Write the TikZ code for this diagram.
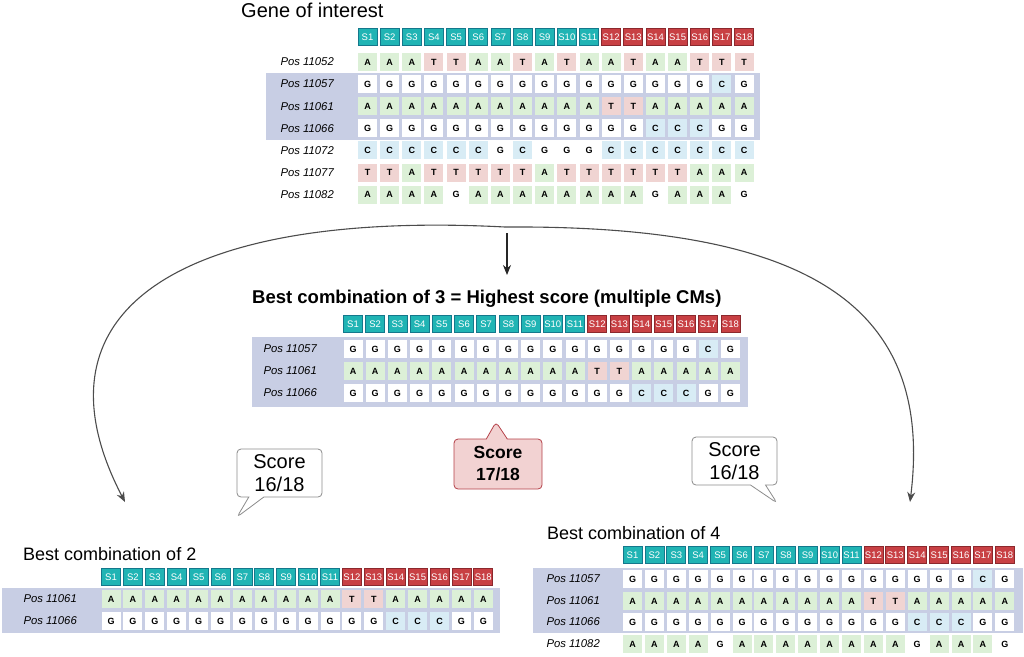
\documentclass[tikz,border=0pt]{standalone}
\usepackage{fontspec}
\setmainfont{Liberation Sans}
\usetikzlibrary{arrows.meta, shapes.callouts}

\definecolor{nucA}{RGB}{220,240,215}
\definecolor{nucT}{RGB}{240,212,210}
\definecolor{nucC}{RGB}{216,236,245}
\definecolor{nucG}{RGB}{255,255,255}
\definecolor{sampteal}{RGB}{32,180,180}
\definecolor{samptealdark}{RGB}{20,120,140}
\definecolor{samprose}{RGB}{200,64,68}
\definecolor{samprosedark}{RGB}{140,40,45}
\definecolor{bandfill}{RGB}{200,206,228}
\definecolor{bestfill}{RGB}{242,210,210}
\definecolor{bestdraw}{RGB}{180,64,72}

\begin{document}
\begin{tikzpicture}[
    x=1pt, y=-1pt,
    % Define base cell style
    nuc/.style={
        rectangle, % Cell shape
        minimum width=19pt, % Cell width
        minimum height=18pt, % Cell height
        inner sep=0pt,
        fill=nuc#1, % Fill by base
        font=\fontsize{9}{10}\selectfont\bfseries
      },
    % Define sample header style
    samp/.style={
        rectangle,
        minimum width=19pt,
        minimum height=17pt,
        inner sep=0pt,
        line width=0.8pt,
        text=white,
        font=\fontsize{9.5}{10}\selectfont
      },
    sampA/.style={samp, fill=sampteal, draw=samptealdark},
    sampB/.style={samp, fill=samprose, draw=samprosedark},
    % Define row label and title styles
    posl/.style={anchor=east, inner sep=0pt, font=\fontsize{11.3}{12}\selectfont\itshape},
    title/.style={anchor=base west, inner sep=0pt, font=\fontsize{18}{20}\selectfont},
    % Define score bubble style
    bubble/.style={
        rectangle callout,
        draw=black!45,
        fill=white,
        line width=0.8pt,
        rounded corners=4pt,
        align=center,
        minimum width=85pt,
        minimum height=48pt,
        callout pointer width=15pt,
        font=\fontsize{20}{23}\selectfont
      },
    band/.style={fill=bandfill},
    % Define arrow style
    conn/.style={->, line width=1.1pt, draw=black!85},
    >={Stealth[length=10pt, width=8pt]}
  ]

  \useasboundingbox (0,0) rectangle (1024,656);

  % Gene of interest
  \node[title, font=\fontsize{20}{22}\selectfont] (gene) at (241,17) {Gene of interest};
  \fill[band] (266,73) rectangle (760,140);
  \foreach \i in {1,...,11} \node[sampA] (top-h\i) at ({345.35+22.15*\i},37) {S\i};
  \foreach \i in {12,...,18} \node[sampB] (top-h\i) at ({345.35+22.15*\i},37) {S\i};
  \node[posl] (top-l1) at (334,62) {Pos 11052};
  \foreach \nt [count=\i] in {A,A,A,T,T,A,A,T,A,T,A,A,T,A,A,T,T,T}
    \node[nuc=\nt] (top-1-\i) at ({345.35+22.15*\i},62) {\nt};
  \node[posl] (top-l2) at (334,84.1) {Pos 11057};
  \foreach \nt [count=\i] in {G,G,G,G,G,G,G,G,G,G,G,G,G,G,G,G,C,G}
    \node[nuc=\nt] (top-2-\i) at ({345.35+22.15*\i},84.1) {\nt};
  \node[posl] (top-l3) at (334,106.2) {Pos 11061};
  \foreach \nt [count=\i] in {A,A,A,A,A,A,A,A,A,A,A,T,T,A,A,A,A,A}
    \node[nuc=\nt] (top-3-\i) at ({345.35+22.15*\i},106.2) {\nt};
  \node[posl] (top-l4) at (334,128.3) {Pos 11066};
  \foreach \nt [count=\i] in {G,G,G,G,G,G,G,G,G,G,G,G,G,C,C,C,G,G}
    \node[nuc=\nt] (top-4-\i) at ({345.35+22.15*\i},128.3) {\nt};
  \node[posl] (top-l5) at (334,150.4) {Pos 11072};
  \foreach \nt [count=\i] in {C,C,C,C,C,C,G,C,G,G,G,C,C,C,C,C,C,C}
    \node[nuc=\nt] (top-5-\i) at ({345.35+22.15*\i},150.4) {\nt};
  \node[posl] (top-l6) at (334,172.5) {Pos 11077};
  \foreach \nt [count=\i] in {T,T,A,T,T,T,T,T,A,T,T,T,T,T,T,A,A,A}
    \node[nuc=\nt] (top-6-\i) at ({345.35+22.15*\i},172.5) {\nt};
  \node[posl] (top-l7) at (334,194.6) {Pos 11082};
  \foreach \nt [count=\i] in {A,A,A,A,G,A,A,A,A,A,A,A,A,G,A,A,A,G}
    \node[nuc=\nt] (top-7-\i) at ({345.35+22.15*\i},194.6) {\nt};

  % Split arrows
  \coordinate (split) at (505,227);
  \coordinate (drop) at (507,233);
  \coordinate (to2) at (125,502);
  \coordinate (to3) at (507,275);
  \coordinate (to4) at (910,502);
  \draw[conn] (drop) -- (to3);
  \draw[conn, draw=black!70] (split) .. controls (180,210) and (25,310) .. (to2);
  \draw[conn, draw=black!70] (split) .. controls (800,225) and (935,300) .. (to4);

  % Best combination of 3
  \node[title, font=\fontsize{18.5}{20}\selectfont\bfseries] (best3) at (252,303) {Best combination of 3 = Highest score (multiple CMs)};
  \fill[band] (252,337) rectangle (748,407);
  \foreach \i in {1,...,11} \node[sampA] (mid-h\i) at ({330.8+22.2*\i},324) {S\i};
  \foreach \i in {12,...,18} \node[sampB] (mid-h\i) at ({330.8+22.2*\i},324) {S\i};
  \node[posl] (mid-l1) at (317,349) {Pos 11057};
  \foreach \nt [count=\i] in {G,G,G,G,G,G,G,G,G,G,G,G,G,G,G,G,C,G}
    \node[nuc=\nt] (mid-1-\i) at ({330.8+22.2*\i},349) {\nt};
  \node[posl] (mid-l2) at (317,371) {Pos 11061};
  \foreach \nt [count=\i] in {A,A,A,A,A,A,A,A,A,A,A,T,T,A,A,A,A,A}
    \node[nuc=\nt] (mid-2-\i) at ({330.8+22.2*\i},371) {\nt};
  \node[posl] (mid-l3) at (317,393) {Pos 11066};
  \foreach \nt [count=\i] in {G,G,G,G,G,G,G,G,G,G,G,G,G,C,C,C,G,G}
    \node[nuc=\nt] (mid-3-\i) at ({330.8+22.2*\i},393) {\nt};

  % Score bubbles
  \node[bubble, callout absolute pointer={(237,517)}] (score2) at (279.5,473) {Score\\16/18};
  \node[bubble, callout absolute pointer={(777,503)}] (score4) at (734.5,461) {Score\\16/18};
  \node[bubble, fill=bestfill, draw=bestdraw, minimum width=88pt, minimum height=50pt,
        callout pointer width=21pt, font=\fontsize{17.5}{22}\selectfont\bfseries,
        callout absolute pointer={(496,422)}] (score3) at (498,464) {Score\\17/18};

  % Best combination of 2
  \node[title] (best2) at (23,560) {Best combination of 2};
  \fill[band] (2,588) rectangle (500,633);
  \foreach \i in {1,...,11} \node[sampA] (bl-h\i) at ({89.1+21.9*\i},577) {S\i};
  \foreach \i in {12,...,18} \node[sampB] (bl-h\i) at ({89.1+21.9*\i},577) {S\i};
  \node[posl] (bl-l1) at (77,599) {Pos 11061};
  \foreach \nt [count=\i] in {A,A,A,A,A,A,A,A,A,A,A,T,T,A,A,A,A,A}
    \node[nuc=\nt] (bl-1-\i) at ({89.1+21.9*\i},599) {\nt};
  \node[posl] (bl-l2) at (77,621) {Pos 11066};
  \foreach \nt [count=\i] in {G,G,G,G,G,G,G,G,G,G,G,G,G,C,C,C,G,G}
    \node[nuc=\nt] (bl-2-\i) at ({89.1+21.9*\i},621) {\nt};

  % Best combination of 4
  \node[title] (best4) at (547,539) {Best combination of 4};
  \fill[band] (533,568) rectangle (1023,633);
  \foreach \i in {1,...,11} \node[sampA] (br-h\i) at ({610.6+21.9*\i},555) {S\i};
  \foreach \i in {12,...,18} \node[sampB] (br-h\i) at ({610.6+21.9*\i},555) {S\i};
  \node[posl] (br-l1) at (600,579) {Pos 11057};
  \foreach \nt [count=\i] in {G,G,G,G,G,G,G,G,G,G,G,G,G,G,G,G,C,G}
    \node[nuc=\nt] (br-1-\i) at ({610.6+21.9*\i},579) {\nt};
  \node[posl] (br-l2) at (600,601) {Pos 11061};
  \foreach \nt [count=\i] in {A,A,A,A,A,A,A,A,A,A,A,T,T,A,A,A,A,A}
    \node[nuc=\nt] (br-2-\i) at ({610.6+21.9*\i},601) {\nt};
  \node[posl] (br-l3) at (600,622) {Pos 11066};
  \foreach \nt [count=\i] in {G,G,G,G,G,G,G,G,G,G,G,G,G,C,C,C,G,G}
    \node[nuc=\nt] (br-3-\i) at ({610.6+21.9*\i},622) {\nt};
  \node[posl] (br-l4) at (600,644) {Pos 11082};
  \foreach \nt [count=\i] in {A,A,A,A,G,A,A,A,A,A,A,A,A,G,A,A,A,G}
    \node[nuc=\nt] (br-4-\i) at ({610.6+21.9*\i},644) {\nt};

\end{tikzpicture}
\end{document}
